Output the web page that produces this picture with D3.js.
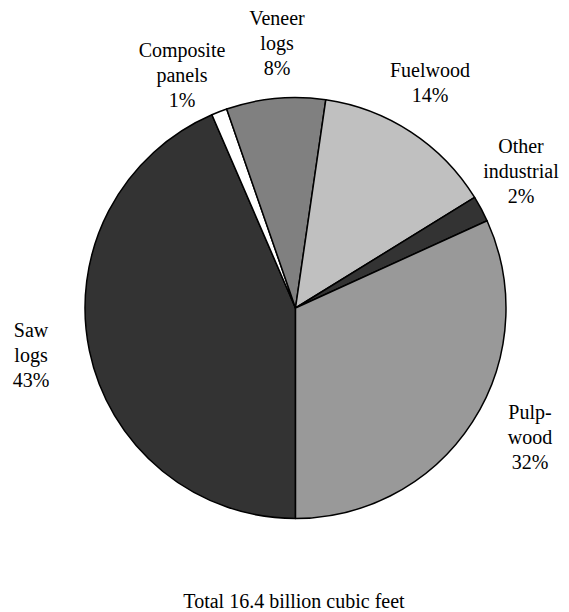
<!DOCTYPE html>
<html><head><meta charset="utf-8">
<script src="https://cdn.jsdelivr.net/npm/d3@7"></script>
<style>body{margin:0;background:#fff}</style>
</head><body><svg width="569" height="612"></svg>
<script>
const categories = ["Saw logs","Composite panels","Veneer logs","Fuelwood","Other industrial","Pulpwood"];
const values = [43.5,1.2,7.6,13.9,2.0,31.8];
const labelLines = [["Saw","logs","43%"],["Composite","panels","1%"],["Veneer","logs","8%"],["Fuelwood","14%"],["Other","industrial","2%"],["Pulp-","wood","32%"]];
const colors = ["#333333","#ffffff","#808080","#c0c0c0","#333333","#999999"];
const labelPos = [[31,337],[182,57],[277,25],[430,77],[521,153],[530,419]];
const title = "Total 16.4 billion cubic feet";

const svg = d3.select("svg")
  .attr("font-family","'Liberation Serif','Times New Roman',Times,serif")
  .attr("font-size",20);
const cx = 295.5, cy = 308, r = 210.5;
const pie = d3.pie().sort(null).value(d=>d).startAngle(Math.PI).endAngle(3*Math.PI);
const arc = d3.arc().innerRadius(0).outerRadius(r);
const g = svg.append("g").attr("transform",`translate(${cx},${cy})`);
g.selectAll("path").data(pie(values)).join("path")
 .attr("d",arc).attr("fill",(d,i)=>colors[i]).attr("stroke","#000").attr("stroke-width",1.5).attr("stroke-linejoin","round");

labelLines.forEach((lines,i)=>{
  const t = svg.append("text").attr("text-anchor","middle").attr("x",labelPos[i][0]).attr("y",labelPos[i][1]).attr("fill","#000");
  lines.forEach((l,j)=>t.append("tspan").attr("x",labelPos[i][0]).attr("dy",j===0?0:25).text(l));
});
svg.append("text").attr("x",294).attr("y",608).attr("text-anchor","middle").attr("fill","#000").text(title);
</script></body></html>
